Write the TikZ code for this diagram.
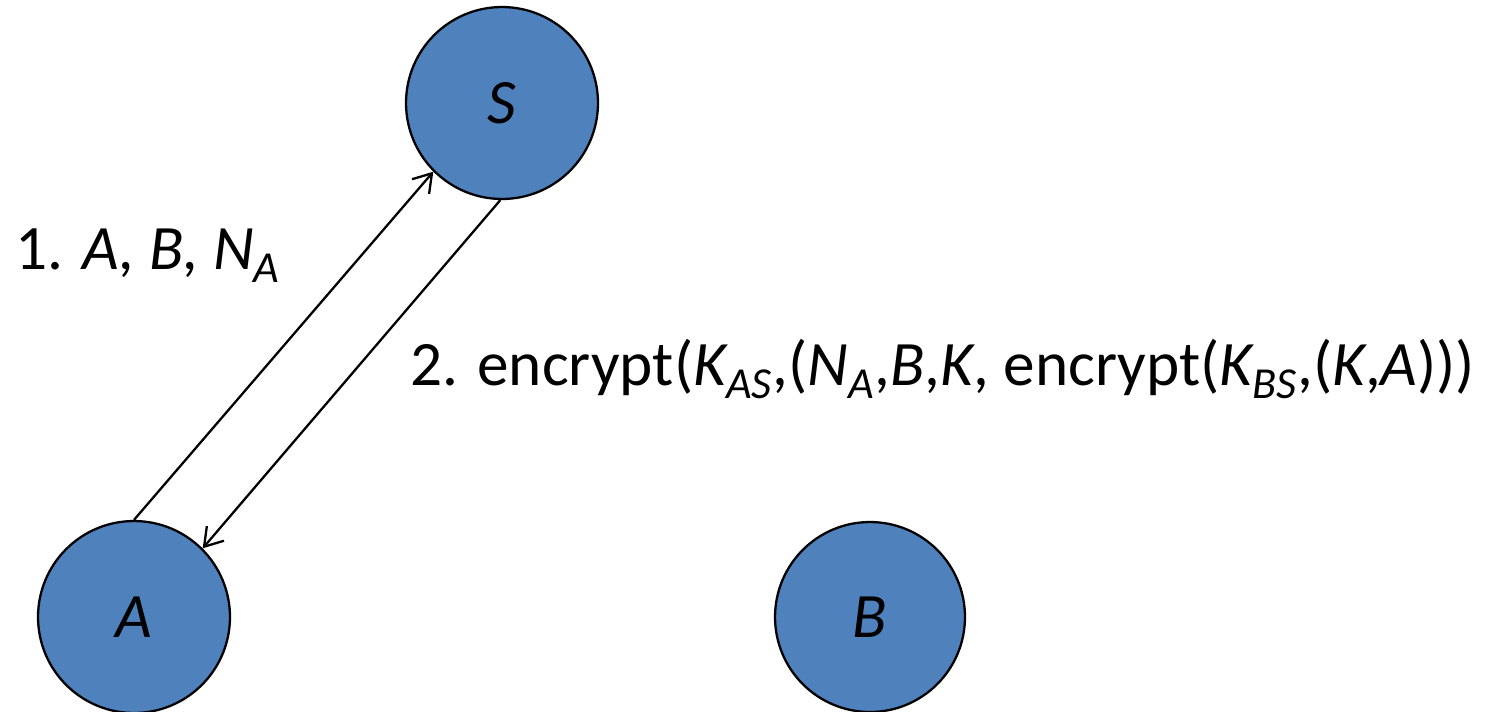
\documentclass[tikz,border=0pt]{standalone}
\usepackage{fontspec}
\setmainfont{Carlito}
\usetikzlibrary{arrows.meta}
\definecolor{partyblue}{HTML}{4F81BD}
\tikzset{
    party/.style={circle,draw=black,line width=1.3pt,fill=partyblue,minimum size=3.84cm,inner sep=0pt,font=\fontsize{36}{43}\selectfont\itshape},
    msg/.style={inner sep=0pt,anchor=base west,font=\fontsize{36}{43}\selectfont},
}
\newcommand{\sub}[1]{\textsubscript{\itshape #1}}
\begin{document}
\begin{tikzpicture}[x=0.02cm,y=-0.02cm,>={Straight Barb[length=0.35cm,width=0.45cm]}]
    \useasboundingbox (0,0) rectangle (1493,711);
    \node[party] (S) at (502,103) {S};
    \node[party] (A) at (134,617) {A};
    \node[party,minimum size=3.8cm] (B) at (870,617) {B};
    \draw[line width=1.3pt,->] (A.90) -- (S.225);
    \draw[line width=1.3pt,->] (S.269) -- (A.45);
    \node[msg] (m1) at (15,269) {1. \textit{A, B, N\sub{A}}};
    \node[msg] (m2) at (410,385) {2. encrypt(\textit{K\sub{AS}},(\textit{N\sub{A}},\textit{B},\textit{K}, encrypt(\textit{K\sub{BS}},(\textit{K},\textit{A})))};
\end{tikzpicture}
\end{document}
